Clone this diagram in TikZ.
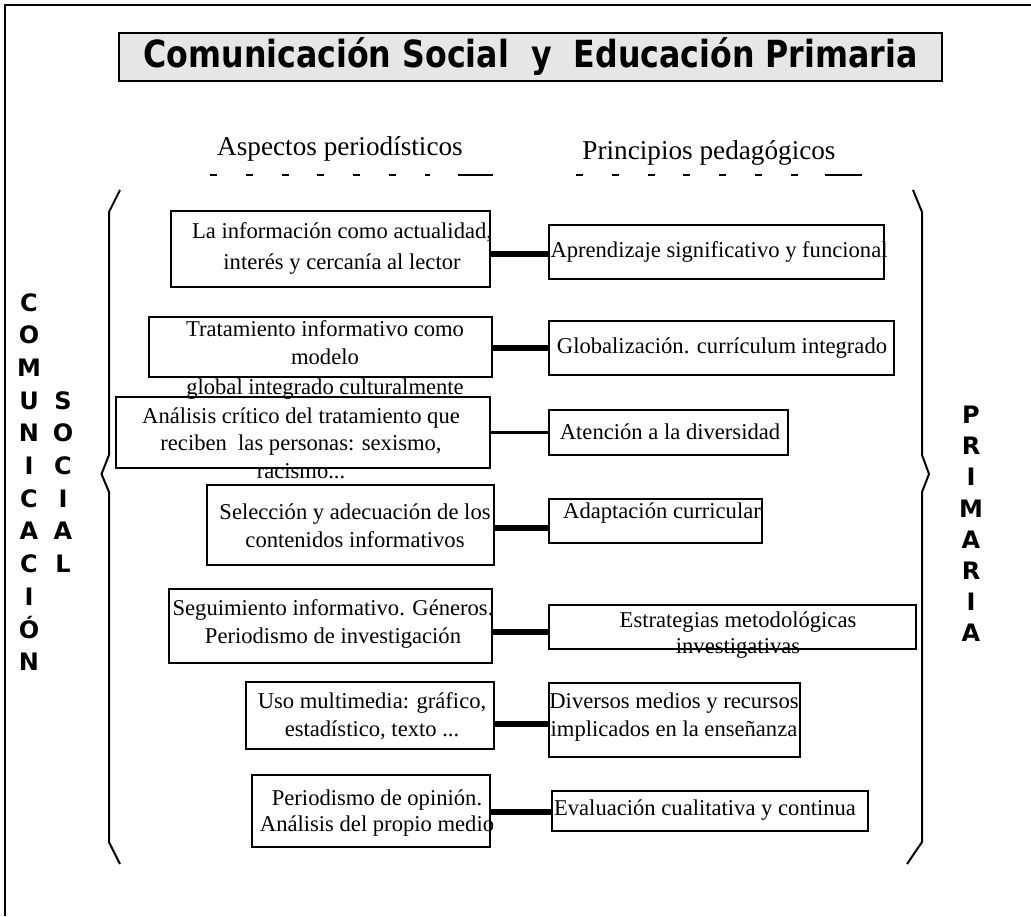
\documentclass[tikz,border=0pt]{standalone}
\usepackage{fontspec}
\setmainfont{Liberation Serif}
\newfontfamily\heavy{DejaVu Sans}
\usetikzlibrary{fit}
\definecolor{titlegray}{HTML}{E6E6E6}
\tikzset{
  pbox/.style={draw, line width=1pt, inner sep=0pt},
  txt/.style={align=center, inner sep=0pt, font=\fontsize{11.3}{13.8}\selectfont},
  sub/.style={inner sep=0pt, font=\fontsize{13.6}{16}\selectfont},
  thickconn/.style={line width=3.2pt},
  thinconn/.style={line width=1.5pt},
  brack/.style={line width=1pt},
  vlet/.style={align=center, inner sep=0pt, font=\heavy\bfseries\fontsize{12}{16.35}\selectfont},
  dashrow/.style={line width=1pt, dash pattern=on 3.5pt off 14.4pt},
}
\begin{document}
\begin{tikzpicture}[x=0.5pt,y=-0.5pt]
\useasboundingbox (0,0) rectangle (1031,916);
% outer frame (top and left sides visible)
\draw[line width=1pt] (5,916) -- (5,5) -- (1031,5);
% title
\node[draw, line width=1pt, fill=titlegray, inner sep=0pt, minimum width=411.5pt, minimum height=24pt] (title) at (530.5,57)
      {\scalebox{1}[1.18]{\resizebox{387pt}{!}{\heavy\bfseries Comunicación Social\ \ y\ \ Educación Primaria}}\hspace{5pt}};
% subheadings
\node[sub] (hA) at (340,149) {Aspectos periodísticos};
\node[sub] (hB) at (709,153) {Principios pedagógicos};
\draw[dashrow] (210,175) -- (430,175);
\draw[line width=1pt] (458,175) -- (493,175);
\draw[dashrow] (576,175) -- (800,175);
\draw[line width=1pt] (825,175) -- (862,175);
% brackets
\draw[brack] (120,190) -- (109,212) -- (109,455) -- (101.5,474) -- (109,492) -- (109,842) -- (120,864);
\draw[brack] (913,190) -- (922,212) -- (922,455) -- (929,474) -- (922,492) -- (922,842) -- (907,864);
% vertical letters
\node[vlet] (cc) at (29,482) {C\\O\\M\\U\\N\\I\\C\\A\\C\\I\\Ó\\N};
\node[vlet] (cs) at (63,482) {S\\O\\C\\I\\A\\L};
\node[vlet, font=\heavy\bfseries\fontsize{12}{15.6}\selectfont] (cp) at (971,524) {P\\R\\I\\M\\A\\R\\I\\A};
% left boxes
\node[pbox, fit={(171,211) (490,287)}] (L1) {};
\node[pbox, fit={(149,317) (492,377)}] (L2) {};
\node[pbox, fit={(116,397) (490,468)}] (L3) {};
\node[pbox, fit={(207,485) (494,565)}] (L4) {};
\node[pbox, fit={(169,589) (492,663)}] (L5) {};
\node[pbox, fit={(246,682) (494,749)}] (L6) {};
\node[pbox, fit={(252,775) (490,847)}] (L7) {};
% right boxes
\node[pbox, fit={(549,225) (884,279)}] (R1) {};
\node[pbox, fit={(549,321) (894,375)}] (R2) {};
\node[pbox, fit={(549,410) (788,455)}] (R3) {};
\node[pbox, fit={(549,499) (762,543)}] (R4) {};
\node[pbox, fit={(549,605) (916,649)}] (R5) {};
\node[pbox, fit={(549,683) (800,757)}] (R6) {};
\node[pbox, fit={(552,791) (868,831)}] (R7) {};
% left texts
\node[txt] (tL1) at (342,248) {La información como actualidad,\\[1.7pt] interés y cercanía al lector};
\node[txt] (tL2) at (325,360) {Tratamiento informativo como\\ modelo\\[1.5pt] global integrado culturalmente};
\node[txt] (tL3) at (301,443) {Análisis crítico del tratamiento que\\ reciben\ \ las personas: sexismo,\\ racismo...};
\node[txt] (tL4) at (355,526) {Selección y adecuación de los\\ contenidos informativos};
\node[txt] (tL5) at (333,624) {Seguimiento informativo. Géneros.\\ Periodismo de investigación};
\node[txt] (tL6) at (372,716) {Uso multimedia: gráfico,\\ estadístico, texto ...};
\node[txt, font=\fontsize{11.3}{12.6}\selectfont] (tL7) at (377,813) {Periodismo de opinión.\\ Análisis del propio medio};
% right texts
\node[txt] (tR1) at (719,252) {Aprendizaje significativo y funcional};
\node[txt] (tR2) at (722,348) {Globalización. currículum integrado};
\node[txt] (tR3) at (670,432) {Atención a la diversidad};
\node[txt] (tR4) at (662,513) {Adaptación curricular};
\node[txt, font=\fontsize{11.3}{13}\selectfont] (tR5) at (738,635) {Estrategias metodológicas\\ investigativas};
\node[txt] (tR6) at (674,717) {Diversos medios y recursos\\ implicados en la enseñanza};
\node[txt] (tR7) at (705,810) {Evaluación cualitativa y continua};
% connectors
\coordinate (y1) at (0,254);
\coordinate (y2) at (0,348);
\coordinate (y3) at (0,432);
\coordinate (y4) at (0,528);
\coordinate (y5) at (0,632);
\coordinate (y6) at (0,724);
\coordinate (y7) at (0,812);
\draw[thickconn] (L1.east |- y1) -- (R1.west |- y1);
\draw[thickconn] (L2.east |- y2) -- (R2.west |- y2);
\draw[thinconn] (L3.east |- y3) -- (R3.west |- y3);
\draw[thickconn] (L4.east |- y4) -- (R4.west |- y4);
\draw[thickconn] (L5.east |- y5) -- (R5.west |- y5);
\draw[thickconn] (L6.east |- y6) -- (R6.west |- y6);
\draw[thickconn] (L7.east |- y7) -- (R7.west |- y7);
\end{tikzpicture}
\end{document}
